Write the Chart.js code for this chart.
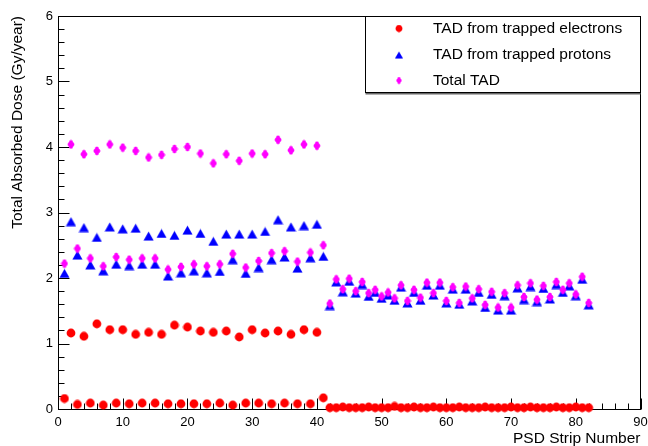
<!DOCTYPE html>
<html>
<head>
<meta charset="utf-8">
<script src="https://cdn.jsdelivr.net/npm/chart.js@4/dist/chart.umd.min.js"></script>
<style>
  html, body { margin: 0; padding: 0; background: #ffffff; }
  #wrap { width: 648px; height: 446px; }
</style>
</head>
<body>
<div id="wrap"><canvas id="c" width="648" height="446"></canvas></div>
<script>
// PSD strip numbers
const strips = [
   1,  2,  3,  4,  5,  6,  7,  8,  9, 10, 11, 12, 13, 14, 15, 16, 17, 18, 19, 20,
  21, 22, 23, 24, 25, 26, 27, 28, 29, 30, 31, 32, 33, 34, 35, 36, 37, 38, 39, 40,
  41, 42, 43, 44, 45, 46, 47, 48, 49, 50, 51, 52, 53, 54, 55, 56, 57, 58, 59, 60,
  61, 62, 63, 64, 65, 66, 67, 68, 69, 70, 71, 72, 73, 74, 75, 76, 77, 78, 79, 80,
  81, 82
];

// Total absorbed dose per strip (Gy/year)
const electronDose = [
  0.16, 1.16, 0.07, 1.11, 0.09, 1.30, 0.06, 1.21, 0.09, 1.21,
  0.08, 1.14, 0.09, 1.17, 0.09, 1.14, 0.08, 1.28, 0.08, 1.25,
  0.08, 1.19, 0.08, 1.17, 0.09, 1.19, 0.06, 1.10, 0.09, 1.21,
  0.09, 1.16, 0.08, 1.19, 0.09, 1.14, 0.08, 1.21, 0.08, 1.17,
  0.17,
  0.02, 0.02, 0.03, 0.02, 0.02, 0.02, 0.03, 0.02, 0.02, 0.02,
  0.04, 0.02, 0.02, 0.03, 0.02, 0.02, 0.03, 0.02, 0.02, 0.02,
  0.03, 0.02, 0.02, 0.02, 0.03, 0.02, 0.02, 0.02, 0.03, 0.02,
  0.02, 0.03, 0.02, 0.02, 0.02, 0.03, 0.02, 0.02, 0.03, 0.02,
  0.02
];

const protonDose = [
  2.07, 2.86, 2.35, 2.77, 2.20, 2.62, 2.11, 2.78, 2.21, 2.75,
  2.19, 2.76, 2.21, 2.64, 2.21, 2.68, 2.03, 2.65, 2.08, 2.73,
  2.11, 2.68, 2.08, 2.56, 2.10, 2.67, 2.28, 2.67, 2.07, 2.67,
  2.16, 2.71, 2.28, 2.89, 2.32, 2.78, 2.15, 2.80, 2.31, 2.82,
  2.33,
  1.58, 1.94, 1.79, 1.95, 1.77, 1.90, 1.72, 1.78, 1.69, 1.74,
  1.66, 1.86, 1.62, 1.78, 1.66, 1.89, 1.74, 1.89, 1.62, 1.83,
  1.60, 1.83, 1.65, 1.78, 1.55, 1.75, 1.51, 1.73, 1.51, 1.85,
  1.67, 1.87, 1.64, 1.84, 1.68, 1.90, 1.78, 1.88, 1.73, 1.98,
  1.59
];

const totalDose = [
  2.22, 4.04, 2.45, 3.89, 2.30, 3.94, 2.18, 4.04, 2.32, 3.99,
  2.28, 3.94, 2.30, 3.84, 2.30, 3.88, 2.13, 3.97, 2.17, 4.00,
  2.21, 3.90, 2.18, 3.75, 2.21, 3.89, 2.37, 3.79, 2.16, 3.90,
  2.26, 3.89, 2.38, 4.11, 2.41, 3.95, 2.25, 4.04, 2.39, 4.02,
  2.50,
  1.61, 1.98, 1.83, 1.99, 1.80, 1.94, 1.77, 1.82, 1.72, 1.78,
  1.69, 1.89, 1.65, 1.82, 1.70, 1.93, 1.77, 1.93, 1.65, 1.86,
  1.62, 1.87, 1.69, 1.83, 1.59, 1.79, 1.55, 1.77, 1.55, 1.89,
  1.71, 1.92, 1.67, 1.88, 1.71, 1.94, 1.82, 1.92, 1.75, 2.02,
  1.62
];

// Axis labels
const xTickLabels = [0, 10, 20, 30, 40, 50, 60, 70, 80, 90];
const yTickLabels = [0, 1, 2, 3, 4, 5, 6];
const seriesNames = ['TAD from trapped electrons', 'TAD from trapped protons', 'Total TAD'];

const FONT = "'Liberation Sans', Arial, Helvetica, sans-serif";

// ---- marker sprites ----
function sprite(w, h, paint) {
  const c = document.createElement('canvas');
  c.width = w; c.height = h;
  paint(c.getContext('2d'));
  return c;
}
const circleMark = sprite(10, 10, g => {
  g.fillStyle = '#ff0000';
  g.beginPath(); g.arc(5, 5, 4.4, 0, Math.PI * 2); g.fill();
});
const triangleMark = sprite(11, 10, g => {
  g.fillStyle = '#0000ff';
  g.beginPath(); g.moveTo(5.5, 0.5); g.lineTo(10.6, 9.4); g.lineTo(0.4, 9.4); g.closePath(); g.fill();
});
const crossMark = sprite(8, 10, g => {
  g.fillStyle = '#ff00ff';
  g.beginPath(); g.moveTo(4, 0.3); g.lineTo(7.7, 5); g.lineTo(4, 9.7); g.lineTo(0.3, 5); g.closePath(); g.fill();
  g.fillRect(2.5, 1, 3, 8);
  g.fillRect(1, 3.5, 6, 3);
});

const toPoints = vals => strips.map((s, i) => ({ x: s, y: vals[i] }));

// ---- frame, inward ticks ----
const framePlugin = {
  id: 'frame',
  beforeDatasetsDraw(chart) {
    const { ctx, chartArea: a, scales: { x, y } } = chart;
    const L = Math.floor(a.left) + 0.5, R = Math.floor(a.right) + 0.5;
    const T = Math.floor(a.top) + 0.5, B = Math.floor(a.bottom) + 0.5;
    ctx.save();
    ctx.strokeStyle = '#000';
    ctx.lineWidth = 1;
    ctx.strokeRect(L, T, R - L, B - T);
    ctx.beginPath();
    for (let v = 0; v <= 90 + 1e-9; v += 2) {
      const px = Math.round(x.getPixelForValue(v)) + 0.5;
      const len = (Math.abs(v % 10) < 1e-9) ? 11 : 6;
      ctx.moveTo(px, B); ctx.lineTo(px, B - len);
    }
    for (let k = 0; k <= 30; k++) {
      const v = k * 0.2;
      const py = Math.round(y.getPixelForValue(v)) + 0.5;
      const len = (k % 5 === 0) ? 11 : 6;
      ctx.moveTo(L, py); ctx.lineTo(L + len, py);
    }
    ctx.stroke();
    ctx.restore();
  }
};

// ---- legend box ----
const legendPlugin = {
  id: 'boxLegend',
  afterDraw(chart) {
    const { ctx, chartArea: a } = chart;
    const R = Math.floor(a.right) + 0.5;
    const L = 365.5, T = Math.floor(a.top) + 0.5, B = 92.5;
    ctx.save();
    ctx.fillStyle = '#ffffff';
    ctx.fillRect(L, T, R - L, B - T);
    ctx.strokeStyle = '#666';
    ctx.lineWidth = 2;
    ctx.beginPath(); ctx.moveTo(L, B + 1); ctx.lineTo(R, B + 1); ctx.stroke();
    ctx.strokeStyle = '#000';
    ctx.lineWidth = 1;
    ctx.strokeRect(L, T, R - L, B - T);
    const rows = [28.5, 55, 80.5];
    ctx.font = '15.5px ' + FONT;
    ctx.fillStyle = '#000';
    ctx.textBaseline = 'middle';
    ctx.textAlign = 'left';
    chart.data.datasets.forEach((ds, i) => {
      const m = ds.pointStyle;
      const s = 0.8;
      ctx.drawImage(m, 399 - m.width * s / 2, rows[i] - m.height * s / 2, m.width * s, m.height * s);
      ctx.fillText(ds.label, 433, rows[i]);
    });
    ctx.restore();
  }
};

new Chart(document.getElementById('c'), {
  type: 'scatter',
  data: {
    datasets: [
      { label: seriesNames[0], data: toPoints(electronDose), pointStyle: circleMark, pointRadius: 5, order: 3, clip: false },
      { label: seriesNames[1], data: toPoints(protonDose), pointStyle: triangleMark, pointRadius: 5, order: 2, clip: false },
      { label: seriesNames[2], data: toPoints(totalDose), pointStyle: crossMark, pointRadius: 5, order: 1, clip: false }
    ]
  },
  options: {
    responsive: false,
    animation: false,
    devicePixelRatio: 1,
    events: [],
    layout: { padding: { top: 16, right: 7.5, bottom: 0, left: 0 } },
    plugins: { legend: { display: false }, tooltip: { enabled: false } },
    scales: {
      x: {
        type: 'linear', min: 0, max: 90,
        afterBuildTicks: s => { s.ticks = xTickLabels.map(v => ({ value: v })); },
        grid: { display: false, drawTicks: false },
        border: { display: false },
        ticks: { autoSkip: false, maxRotation: 0, padding: 6, color: '#000', font: { family: FONT, size: 13 } },
        title: { display: true, text: 'PSD Strip Number', align: 'end', color: '#000',
                 font: { family: FONT, size: 15.5, lineHeight: 1 }, padding: { top: 0, bottom: 0 } },
        afterFit: s => { s.height = 37; s.paddingLeft = 0; s.paddingRight = 0; }
      },
      y: {
        type: 'linear', min: 0, max: 6,
        afterBuildTicks: s => { s.ticks = yTickLabels.map(v => ({ value: v })); },
        grid: { display: false, drawTicks: false },
        border: { display: false },
        ticks: { autoSkip: false, padding: 5, color: '#000', font: { family: FONT, size: 13 } },
        title: { display: true, text: 'Total Absorbed Dose (Gy/year)', align: 'end', color: '#000',
                 font: { family: FONT, size: 15.5, lineHeight: 1 }, padding: { top: 10, bottom: 0 } },
        afterFit: s => { s.width = 58; s.paddingTop = 0; s.paddingBottom = 0; }
      }
    }
  },
  plugins: [framePlugin, legendPlugin]
});
</script>
</body>
</html>
